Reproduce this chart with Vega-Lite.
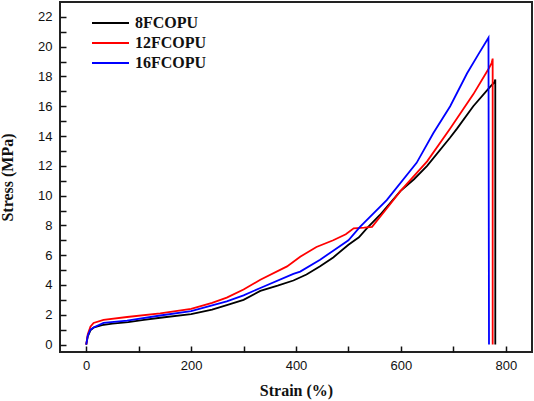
{
  "$schema": "https://vega.github.io/schema/vega-lite/v6.json",
  "width": 472,
  "height": 350,
  "autosize": {"type": "none"},
  "padding": {"left": 60, "top": 2, "right": 2, "bottom": 49},
  "background": "white",
  "config": {
    "view": {"stroke": "#222222", "strokeWidth": 2},
    "axis": {
      "domain": false,
      "grid": false,
      "labelFont": "Liberation Sans",
      "labelFontSize": 13,
      "labelColor": "#111111",
      "titleFont": "Liberation Serif",
      "titleFontSize": 16,
      "titleFontWeight": "bold",
      "titleColor": "#111111"
    }
  },
  "data": {
    "values": [
      {"s": "8FCOPU", "i": 0, "x": 0, "y": 0},
      {"s": "8FCOPU", "i": 1, "x": 3, "y": 0.55},
      {"s": "8FCOPU", "i": 2, "x": 8, "y": 0.95},
      {"s": "8FCOPU", "i": 3, "x": 15, "y": 1.15},
      {"s": "8FCOPU", "i": 4, "x": 30, "y": 1.3},
      {"s": "8FCOPU", "i": 5, "x": 50, "y": 1.4},
      {"s": "8FCOPU", "i": 6, "x": 80, "y": 1.5},
      {"s": "8FCOPU", "i": 7, "x": 110, "y": 1.65},
      {"s": "8FCOPU", "i": 8, "x": 141, "y": 1.8},
      {"s": "8FCOPU", "i": 9, "x": 200, "y": 2.05},
      {"s": "8FCOPU", "i": 10, "x": 240, "y": 2.35},
      {"s": "8FCOPU", "i": 11, "x": 268, "y": 2.65},
      {"s": "8FCOPU", "i": 12, "x": 300, "y": 3.0},
      {"s": "8FCOPU", "i": 13, "x": 332, "y": 3.6},
      {"s": "8FCOPU", "i": 14, "x": 365, "y": 3.95},
      {"s": "8FCOPU", "i": 15, "x": 395, "y": 4.3},
      {"s": "8FCOPU", "i": 16, "x": 420, "y": 4.7},
      {"s": "8FCOPU", "i": 17, "x": 446, "y": 5.25},
      {"s": "8FCOPU", "i": 18, "x": 471, "y": 5.85},
      {"s": "8FCOPU", "i": 19, "x": 500, "y": 6.7},
      {"s": "8FCOPU", "i": 20, "x": 520, "y": 7.2},
      {"s": "8FCOPU", "i": 21, "x": 535, "y": 7.8},
      {"s": "8FCOPU", "i": 22, "x": 560, "y": 8.7},
      {"s": "8FCOPU", "i": 23, "x": 599, "y": 10.3},
      {"s": "8FCOPU", "i": 24, "x": 625, "y": 11.1},
      {"s": "8FCOPU", "i": 25, "x": 650, "y": 12.0},
      {"s": "8FCOPU", "i": 26, "x": 694, "y": 13.9},
      {"s": "8FCOPU", "i": 27, "x": 707, "y": 14.5},
      {"s": "8FCOPU", "i": 28, "x": 738, "y": 16.0},
      {"s": "8FCOPU", "i": 29, "x": 770, "y": 17.3},
      {"s": "8FCOPU", "i": 30, "x": 778, "y": 17.6},
      {"s": "8FCOPU", "i": 31, "x": 780, "y": 17.8},
      {"s": "8FCOPU", "i": 32, "x": 780, "y": 0},
      {"s": "12FCOPU", "i": 0, "x": 0, "y": 0},
      {"s": "12FCOPU", "i": 1, "x": 3, "y": 0.7},
      {"s": "12FCOPU", "i": 2, "x": 8, "y": 1.2},
      {"s": "12FCOPU", "i": 3, "x": 14, "y": 1.45},
      {"s": "12FCOPU", "i": 4, "x": 33, "y": 1.65},
      {"s": "12FCOPU", "i": 5, "x": 78, "y": 1.85},
      {"s": "12FCOPU", "i": 6, "x": 141, "y": 2.1},
      {"s": "12FCOPU", "i": 7, "x": 200, "y": 2.4},
      {"s": "12FCOPU", "i": 8, "x": 240, "y": 2.8},
      {"s": "12FCOPU", "i": 9, "x": 268, "y": 3.15},
      {"s": "12FCOPU", "i": 10, "x": 300, "y": 3.7},
      {"s": "12FCOPU", "i": 11, "x": 332, "y": 4.35},
      {"s": "12FCOPU", "i": 12, "x": 383, "y": 5.25},
      {"s": "12FCOPU", "i": 13, "x": 408, "y": 5.9},
      {"s": "12FCOPU", "i": 14, "x": 439, "y": 6.55},
      {"s": "12FCOPU", "i": 15, "x": 471, "y": 7.0},
      {"s": "12FCOPU", "i": 16, "x": 495, "y": 7.4},
      {"s": "12FCOPU", "i": 17, "x": 510, "y": 7.8},
      {"s": "12FCOPU", "i": 18, "x": 530, "y": 7.85},
      {"s": "12FCOPU", "i": 19, "x": 545, "y": 7.9},
      {"s": "12FCOPU", "i": 20, "x": 570, "y": 9.0},
      {"s": "12FCOPU", "i": 21, "x": 599, "y": 10.3},
      {"s": "12FCOPU", "i": 22, "x": 650, "y": 12.3},
      {"s": "12FCOPU", "i": 23, "x": 694, "y": 14.5},
      {"s": "12FCOPU", "i": 24, "x": 738, "y": 16.8},
      {"s": "12FCOPU", "i": 25, "x": 767, "y": 18.5},
      {"s": "12FCOPU", "i": 26, "x": 773, "y": 18.9},
      {"s": "12FCOPU", "i": 27, "x": 775, "y": 19.2},
      {"s": "12FCOPU", "i": 28, "x": 775, "y": 0},
      {"s": "16FCOPU", "i": 0, "x": 0, "y": 0},
      {"s": "16FCOPU", "i": 1, "x": 3, "y": 0.6},
      {"s": "16FCOPU", "i": 2, "x": 8, "y": 1.0},
      {"s": "16FCOPU", "i": 3, "x": 14, "y": 1.15},
      {"s": "16FCOPU", "i": 4, "x": 33, "y": 1.45},
      {"s": "16FCOPU", "i": 5, "x": 78, "y": 1.6},
      {"s": "16FCOPU", "i": 6, "x": 141, "y": 1.95},
      {"s": "16FCOPU", "i": 7, "x": 200, "y": 2.25},
      {"s": "16FCOPU", "i": 8, "x": 268, "y": 2.9},
      {"s": "16FCOPU", "i": 9, "x": 300, "y": 3.3},
      {"s": "16FCOPU", "i": 10, "x": 332, "y": 3.8},
      {"s": "16FCOPU", "i": 11, "x": 395, "y": 4.75},
      {"s": "16FCOPU", "i": 12, "x": 408, "y": 4.9},
      {"s": "16FCOPU", "i": 13, "x": 446, "y": 5.7},
      {"s": "16FCOPU", "i": 14, "x": 471, "y": 6.3},
      {"s": "16FCOPU", "i": 15, "x": 500, "y": 7.0},
      {"s": "16FCOPU", "i": 16, "x": 522, "y": 7.9},
      {"s": "16FCOPU", "i": 17, "x": 573, "y": 9.7},
      {"s": "16FCOPU", "i": 18, "x": 630, "y": 12.2},
      {"s": "16FCOPU", "i": 19, "x": 662, "y": 14.2},
      {"s": "16FCOPU", "i": 20, "x": 694, "y": 16.0},
      {"s": "16FCOPU", "i": 21, "x": 726, "y": 18.2},
      {"s": "16FCOPU", "i": 22, "x": 748, "y": 19.5},
      {"s": "16FCOPU", "i": 23, "x": 767, "y": 20.6},
      {"s": "16FCOPU", "i": 24, "x": 768, "y": 0}
    ]
  },
  "mark": {"type": "line", "strokeWidth": 1.8},
  "encoding": {
    "x": {
      "field": "x", "type": "quantitative",
      "scale": {"domain": [-50, 850], "nice": false, "zero": false},
      "axis": {
        "values": [0, 100, 200, 300, 400, 500, 600, 700, 800],
        "ticks": true,
        "tickColor": "#111111",
        "tickWidth": 1.5,
        "tickSize": 6,
        "offset": -6,
        "labelPadding": 7,
        "labelExpr": "datum.value % 200 === 0 ? datum.label : ''",
        "title": "Strain (%)",
        "titlePadding": 10
      }
    },
    "y": {
      "field": "y", "type": "quantitative",
      "scale": {"domain": [-0.5, 23], "nice": false, "zero": false},
      "axis": {
        "values": [0, 1, 2, 3, 4, 5, 6, 7, 8, 9, 10, 11, 12, 13, 14, 15, 16, 17, 18, 19, 20, 21, 22],
        "ticks": true,
        "tickColor": "#111111",
        "tickWidth": 1.5,
        "tickSize": -6,
        "labelPadding": 14,
        "labelExpr": "datum.value % 2 === 0 ? datum.label : ''",
        "title": "Stress (MPa)",
        "titlePadding": 22
      }
    },
    "order": {"field": "i", "type": "quantitative"},
    "color": {
      "field": "s", "type": "nominal",
      "scale": {"domain": ["8FCOPU", "12FCOPU", "16FCOPU"], "range": ["#000000", "#ff0000", "#0000ff"]},
      "legend": {
        "title": null,
        "orient": "none",
        "legendX": 31,
        "legendY": 11,
        "symbolType": "stroke",
        "symbolSize": 1369,
        "symbolStrokeWidth": 2,
        "labelFont": "Liberation Serif",
        "labelFontSize": 16,
        "labelFontWeight": "bold",
        "labelColor": "#111111",
        "labelOffset": 5,
        "clipHeight": 20,
        "rowPadding": 0
      }
    }
  }
}
